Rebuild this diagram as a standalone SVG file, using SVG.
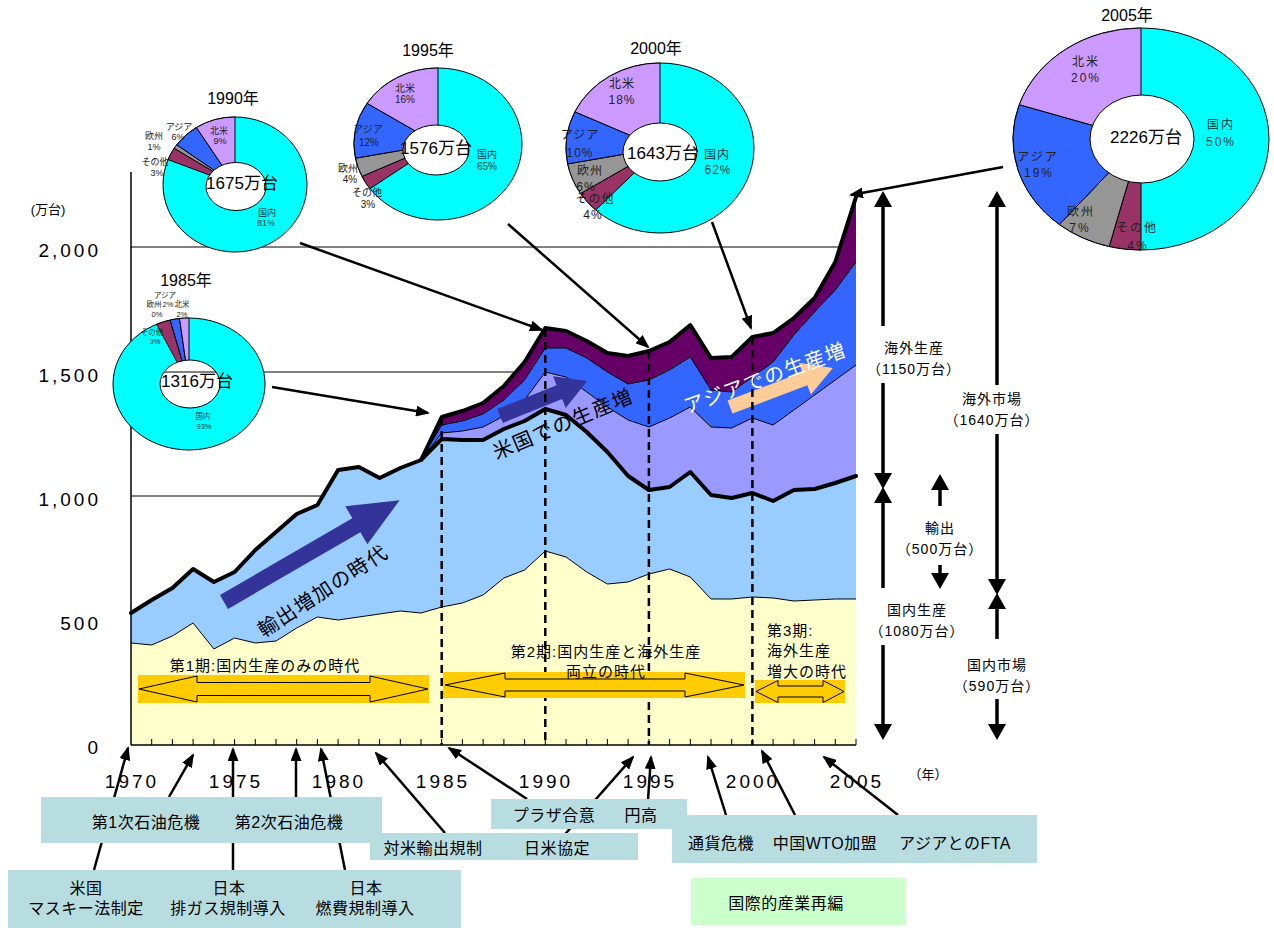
<svg xmlns="http://www.w3.org/2000/svg" width="1274" height="928" viewBox="0 0 1274 928">
<style>
text{font-family:'Liberation Sans','Noto Sans CJK JP',sans-serif;fill:#000}
.ax{font-size:19px;letter-spacing:3px}
.yl{text-anchor:end}
.xl{text-anchor:middle}
.ev{font-size:16px;text-anchor:middle;letter-spacing:0.5px}
.pl{text-anchor:middle;dominant-baseline:central;fill:#222}
.dom{fill:#003333}
.yr{font-size:16px;text-anchor:middle;dominant-baseline:central}
.tot{font-size:17px;text-anchor:middle;dominant-baseline:central}
.rl{font-size:14px;text-anchor:middle;letter-spacing:1px;dominant-baseline:central}
.per{font-size:15px;letter-spacing:1px}
.big{font-size:20px;text-anchor:middle;dominant-baseline:central;letter-spacing:1.5px}
.grid{stroke:#000;stroke-width:1}
.thin{fill:none;stroke:#000;stroke-width:1;stroke-linejoin:round}
.thick{fill:none;stroke:#000;stroke-width:4;stroke-linejoin:round;stroke-linecap:round}
.dash{stroke:#000;stroke-width:2.5;stroke-dasharray:8 5}
.con{stroke:#000;stroke-width:2.5;fill:none;marker-end:url(#ah)}
.rc{stroke:#000;stroke-width:3.5;fill:none;marker-end:url(#ahb)}
.box{fill:#B7DDE1}
.band{fill:#FFCC00}
.dbl{fill:none;stroke:#000;stroke-width:1}
.sl{stroke:#000;stroke-width:1}
</style>
<defs>
<marker id="ah" markerUnits="userSpaceOnUse" markerWidth="14" markerHeight="11" refX="12" refY="5.5" orient="auto"><path d="M0,0 L14,5.5 L0,11 Z" fill="#000"/></marker>
<marker id="ahb" markerUnits="userSpaceOnUse" markerWidth="16" markerHeight="18" refX="11" refY="9" orient="auto"><path d="M0,0 L16,9 L0,18 Z" fill="#000"/></marker>
<mask id="m85"><rect x="100" y="300" width="190" height="170" fill="#fff"/><ellipse cx="190" cy="384" rx="30" ry="24" fill="#000"/></mask>
<mask id="m90"><rect x="150" y="105" width="170" height="160" fill="#fff"/><ellipse cx="236" cy="186.5" rx="30" ry="24" fill="#000"/></mask>
<mask id="m95"><rect x="340" y="55" width="200" height="180" fill="#fff"/><ellipse cx="436" cy="150" rx="33" ry="25" fill="#000"/></mask>
<mask id="m00"><rect x="555" y="50" width="215" height="200" fill="#fff"/><ellipse cx="660" cy="152" rx="37" ry="29" fill="#000"/></mask>
<mask id="m05"><rect x="1000" y="15" width="274" height="250" fill="#fff"/><ellipse cx="1142" cy="139" rx="52" ry="44" fill="#000"/></mask>
</defs>
<rect width="1274" height="928" fill="#fff"/>

<g id="chart">
<g id="gridlines">
<line class="grid" x1="131" y1="247" x2="856" y2="247"/>
<line class="grid" x1="131" y1="372" x2="856" y2="372"/>
<line class="grid" x1="131" y1="496" x2="856" y2="496"/>
<line class="grid" x1="131" y1="621" x2="856" y2="621"/>
</g>
<g id="areas">
<path fill="#660066" d="M421,460 L441.7,417 462.4,411 483.1,403 503.9,386 524.6,362 545.3,328 566,331 586.7,341 607.4,353 628.1,356 648.9,351 669.6,342 690.3,325 711,358 731.7,357 752.4,337 773.1,333 793.9,318 814.6,298 835.3,262 856,197 L856,745 L421,745 Z"/>
<path fill="#3366FF" d="M421,460 L441.7,425 462.4,421 483.1,414 503.9,400 524.6,380 545.3,348 566,348 586.7,358 607.4,372 628.1,384 648.9,380 669.6,370 690.3,357 711,390 731.7,392 752.4,377 773.1,362 793.9,335 814.6,312 835.3,290 856,262 L856,745 L421,745 Z"/>
<path fill="#9999FF" d="M421,460 L441.7,433 462.4,431 483.1,427 503.9,416 524.6,400 545.3,372 566,377 586.7,392 607.4,407 628.1,420 648.9,427 669.6,418 690.3,407 711,427 731.7,428 752.4,418 773.1,425 793.9,410 814.6,395 835.3,380 856,365 L856,745 L421,745 Z"/>
<path fill="#99CCFF" d="M131,613 L151.7,600 172.4,588 193.1,569 213.9,582 234.6,572 255.3,550 276,532 296.7,514 317.4,505 338.1,470 358.9,467 379.6,478 400.3,468 421,460 441.7,439 462.4,440 483.1,440 503.9,429 524.6,421 545.3,409 566,415 586.7,432 607.4,452 628.1,476 648.9,490 669.6,487 690.3,472 711,495 731.7,498 752.4,493 773.1,501 793.9,490 814.6,489 835.3,483 856,476 L856,745 L131,745 Z"/>
<path fill="#FFFFCC" d="M131,643 L151.7,645 172.4,636 193.1,623 213.9,649 234.6,638 255.3,643 276,641 296.7,628 317.4,617 338.1,620 358.9,617 379.6,614 400.3,611 421,613 441.7,607 462.4,603 483.1,595 503.9,578 524.6,570 545.3,551 566,557 586.7,572 607.4,584 628.1,582 648.9,574 669.6,569 690.3,577 711,599 731.7,599 752.4,597 773.1,598 793.9,601 814.6,600 835.3,599 856,599 L856,745 L131,745 Z"/>
</g>
<g id="series-lines">
<polyline class="thin" points="131,643 151.7,645 172.4,636 193.1,623 213.9,649 234.6,638 255.3,643 276,641 296.7,628 317.4,617 338.1,620 358.9,617 379.6,614 400.3,611 421,613 441.7,607 462.4,603 483.1,595 503.9,578 524.6,570 545.3,551 566,557 586.7,572 607.4,584 628.1,582 648.9,574 669.6,569 690.3,577 711,599 731.7,599 752.4,597 773.1,598 793.9,601 814.6,600 835.3,599 856,599"/>
<polyline class="thin" points="421,460 441.7,433 462.4,431 483.1,427 503.9,416 524.6,400 545.3,372 566,377 586.7,392 607.4,407 628.1,420 648.9,427 669.6,418 690.3,407 711,427 731.7,428 752.4,418 773.1,425 793.9,410 814.6,395 835.3,380 856,365"/>
<polyline class="thin" points="421,460 441.7,425 462.4,421 483.1,414 503.9,400 524.6,380 545.3,348 566,348 586.7,358 607.4,372 628.1,384 648.9,380 669.6,370 690.3,357 711,390 731.7,392 752.4,377 773.1,362 793.9,335 814.6,312 835.3,290 856,262"/>
<polyline class="thick" points="131,613 151.7,600 172.4,588 193.1,569 213.9,582 234.6,572 255.3,550 276,532 296.7,514 317.4,505 338.1,470 358.9,467 379.6,478 400.3,468 421,460 441.7,439 462.4,440 483.1,440 503.9,429 524.6,421 545.3,409 566,415 586.7,432 607.4,452 628.1,476 648.9,490 669.6,487 690.3,472 711,495 731.7,498 752.4,493 773.1,501 793.9,490 814.6,489 835.3,483 856,476"/>
<polyline class="thick" points="421,460 441.7,417 462.4,411 483.1,403 503.9,386 524.6,362 545.3,328 566,331 586.7,341 607.4,353 628.1,356 648.9,351 669.6,342 690.3,325 711,358 731.7,357 752.4,337 773.1,333 793.9,318 814.6,298 835.3,262 856,197"/>
</g>
<g id="axes">
<line stroke="#000" stroke-width="1.5" x1="131" y1="172" x2="131" y2="745"/>
<line stroke="#000" stroke-width="1.5" x1="131" y1="745" x2="856" y2="745"/>
<path stroke="#000" stroke-width="1" fill="none" d="M151.7,745V739M172.4,745V739M193.1,745V739M213.9,745V739M234.6,745V739M255.3,745V739M276,745V739M296.7,745V739M317.4,745V739M338.1,745V739M358.9,745V739M379.6,745V739M400.3,745V739M421,745V739M441.7,745V739M462.4,745V739M483.1,745V739M503.9,745V739M524.6,745V739M545.3,745V739M566,745V739M586.7,745V739M607.4,745V739M628.1,745V739M648.9,745V739M669.6,745V739M690.3,745V739M711,745V739M731.7,745V739M752.4,745V739M773.1,745V739M793.9,745V739M814.6,745V739M835.3,745V739M856,745V739"/>
<text x="48" y="214" font-size="13" text-anchor="middle">(万台)</text>
<text class="ax yl" x="101" y="257">2,000</text>
<text class="ax yl" x="101" y="382">1,500</text>
<text class="ax yl" x="101" y="506">1,000</text>
<text class="ax yl" x="101" y="630">500</text>
<text class="ax yl" x="101" y="754">0</text>
<text class="ax xl" x="132" y="788">1970</text>
<text class="ax xl" x="236" y="788">1975</text>
<text class="ax xl" x="339" y="788">1980</text>
<text class="ax xl" x="443" y="788">1985</text>
<text class="ax xl" x="546" y="788">1990</text>
<text class="ax xl" x="650" y="788">1995</text>
<text class="ax xl" x="753" y="788">2000</text>
<text class="ax xl" x="857" y="788">2005</text>
<text x="928" y="779" font-size="13" text-anchor="middle">（年）</text>
</g>
<g id="trend-arrows">
<polygon fill="#333399" points="0,-8 153,-8 153,-22 203,0 153,22 153,8 0,8" transform="translate(224,602) rotate(-30.1)"/>
<polygon fill="#333399" points="0,-7.5 64,-7.5 64,-17 94,0 64,17 64,7.5 0,7.5" transform="translate(500,416) rotate(-21.9)"/>
<polygon fill="#FFCC99" points="0,-7 80,-7 80,-17 110,0 80,17 80,7 0,7" transform="translate(730,407) rotate(-20.7)"/>
</g>
<g id="period-dividers">
<line class="dash" x1="441.7" y1="418" x2="441.7" y2="745"/>
<line class="dash" x1="545.3" y1="329" x2="545.3" y2="745"/>
<line class="dash" x1="648.9" y1="351" x2="648.9" y2="745"/>
<line class="dash" x1="752.4" y1="337" x2="752.4" y2="745"/>
</g>
<g id="period-bands">
<rect class="band" x="138" y="675" width="291" height="28"/>
<polygon class="dbl" points="139,689 197,676 197,682.5 370,682.5 370,676 428,689 370,702 370,695.5 197,695.5 197,702"/>
<rect class="band" x="443" y="672" width="302" height="26"/>
<polygon class="dbl" points="445,685 505,673 505,679 685,679 685,673 744,685 685,697 685,691 505,691 505,697"/>
<rect class="band" x="755" y="680" width="90" height="23"/>
<polygon class="dbl" points="756,691.5 778,680.5 778,686 823,686 823,680.5 844,691.5 823,702.5 823,697 778,697 778,702.5"/>
</g>
<g id="chart-texts">
<text class="big" transform="translate(323,591) rotate(-33)">輸出増加の時代</text>
<text class="big" transform="translate(563,424) rotate(-23)">米国での生産増</text>
<text class="big" style="fill:#fff" transform="translate(765,378) rotate(-20)">アジアでの生産増</text>
<text class="per" x="265" y="671" text-anchor="middle">第1期:国内生産のみの時代</text>
<text class="per" x="606" y="657" text-anchor="middle">第2期:国内生産と海外生産</text>
<text class="per" x="606" y="677" text-anchor="middle">両立の時代</text>
<text class="per" x="767" y="636">第3期:</text>
<text class="per" x="767" y="656">海外生産</text>
<text class="per" x="767" y="677">増大の時代</text>
</g>
</g>

<g id="pie1985">
<g mask="url(#m85)">
<ellipse cx="189" cy="384" rx="76" ry="66" fill="#00FFFF" stroke="#000"/>
<path class="sl" fill="#993366" d="M189,384 L156.6,324.3 A76,66 0 0 1 170.1,320.1 Z"/>
<path class="sl" fill="#3366FF" d="M189,384 L170.1,320.1 A76,66 0 0 1 179.5,318.5 Z"/>
<path class="sl" fill="#CC99FF" d="M189,384 L179.5,318.5 A76,66 0 0 1 189,318 Z"/>
</g>
<ellipse cx="190" cy="384" rx="30" ry="24" fill="none" stroke="#000"/>
<text class="yr" x="186" y="280">1985年</text>
<text class="tot" x="197" y="381">1316万台</text>
<g font-size="7.5">
<text class="pl" x="165" y="295">アジア</text>
<text class="pl" x="154" y="304">欧州</text><text class="pl" x="168" y="304">2%</text><text class="pl" x="182" y="304">北米</text>
<text class="pl" x="157" y="314">0%</text><text class="pl" x="182" y="314">2%</text>
<text class="pl" x="152" y="332">その他</text><text class="pl" x="155" y="341">3%</text>
<text class="pl dom" x="203" y="416">国内</text><text class="pl dom" x="204" y="426">93%</text>
</g>
</g>

<g id="pie1990">
<g mask="url(#m90)">
<ellipse cx="235" cy="184.5" rx="72" ry="67.5" fill="#00FFFF" stroke="#000"/>
<path class="sl" fill="#993366" d="M235,184.5 L168.1,159.7 A72,67.5 0 0 1 174.2,148.3 Z"/>
<path class="sl" fill="#969696" d="M235,184.5 L174.2,148.3 A72,67.5 0 0 1 176.8,144.8 Z"/>
<path class="sl" fill="#3366FF" d="M235,184.5 L176.8,144.8 A72,67.5 0 0 1 196.4,127.5 Z"/>
<path class="sl" fill="#CC99FF" d="M235,184.5 L196.4,127.5 A72,67.5 0 0 1 235,117 Z"/>
</g>
<ellipse cx="236" cy="186.5" rx="30" ry="24" fill="none" stroke="#000"/>
<text class="yr" x="233" y="98">1990年</text>
<text class="tot" x="242" y="183">1675万台</text>
<g font-size="9">
<text class="pl" x="219" y="131">北米</text><text class="pl" x="220" y="141">9%</text>
<text class="pl" x="179" y="127">アジア</text><text class="pl" x="178" y="137">6%</text>
<text class="pl" x="154" y="136">欧州</text><text class="pl" x="154" y="147">1%</text>
<text class="pl" x="155" y="162">その他</text><text class="pl" x="157" y="173">3%</text>
<text class="pl dom" x="267" y="213">国内</text><text class="pl dom" x="266" y="223">81%</text>
</g>
</g>

<g id="pie1995">
<g mask="url(#m95)">
<ellipse cx="438" cy="144" rx="84" ry="76" fill="#00FFFF" stroke="#000"/>
<path class="sl" fill="#993366" d="M438,144 L370,188.7 A84,76 0 0 1 362,176.4 Z"/>
<path class="sl" fill="#969696" d="M438,144 L362,176.4 A84,76 0 0 1 355.5,158.2 Z"/>
<path class="sl" fill="#3366FF" d="M438,144 L355.5,158.2 A84,76 0 0 1 367.1,103.3 Z"/>
<path class="sl" fill="#CC99FF" d="M438,144 L367.1,103.3 A84,76 0 0 1 438,68 Z"/>
</g>
<ellipse cx="436" cy="150" rx="33" ry="25" fill="none" stroke="#000"/>
<text class="yr" x="428" y="50">1995年</text>
<text class="tot" x="436" y="148">1576万台</text>
<g font-size="10">
<text class="pl" x="405" y="88">北米</text><text class="pl" x="405" y="99">16%</text>
<text class="pl" x="368" y="129">アジア</text><text class="pl" x="369" y="142">12%</text>
<text class="pl" x="348" y="168">欧州</text><text class="pl" x="350" y="179">4%</text>
<text class="pl" x="367" y="192">その他</text><text class="pl" x="368" y="204">3%</text>
<text class="pl dom" x="487" y="154">国内</text><text class="pl dom" x="487" y="166">65%</text>
</g>
</g>

<g id="pie2000">
<g mask="url(#m00)">
<ellipse cx="660" cy="148" rx="94" ry="85" fill="#00FFFF" stroke="#000"/>
<path class="sl" fill="#993366" d="M660,148 L595.7,210 A94,85 0 0 1 580.6,193.5 Z"/>
<path class="sl" fill="#969696" d="M660,148 L580.6,193.5 A94,85 0 0 1 567.7,163.9 Z"/>
<path class="sl" fill="#3366FF" d="M660,148 L567.7,163.9 A94,85 0 0 1 574.9,111.8 Z"/>
<path class="sl" fill="#CC99FF" d="M660,148 L574.9,111.8 A94,85 0 0 1 660,63 Z"/>
</g>
<ellipse cx="660" cy="152" rx="37" ry="29" fill="none" stroke="#000"/>
<text class="yr" x="656" y="48">2000年</text>
<text class="tot" x="663" y="153">1643万台</text>
<g font-size="12" letter-spacing="1">
<text class="pl" x="622" y="84">北米</text><text class="pl" x="622" y="100">18%</text>
<text class="pl" x="580" y="135">アジア</text><text class="pl" x="580" y="153">10%</text>
<text class="pl" x="590" y="171">欧州</text><text class="pl" x="586" y="187">6%</text>
<text class="pl" x="595" y="199">その他</text><text class="pl" x="593" y="215">4%</text>
<text class="pl dom" x="717" y="155">国内</text><text class="pl dom" x="718" y="170">62%</text>
</g>
</g>

<g id="pie2005">
<g mask="url(#m05)">
<ellipse cx="1141" cy="139" rx="128" ry="111" fill="#00FFFF" stroke="#000"/>
<path class="sl" fill="#993366" d="M1141,139 L1141,250 A128,111 0 0 1 1109.2,246.5 Z"/>
<path class="sl" fill="#969696" d="M1141,139 L1109.2,246.5 A128,111 0 0 1 1059.4,224.5 Z"/>
<path class="sl" fill="#3366FF" d="M1141,139 L1059.4,224.5 A128,111 0 0 1 1019.3,104.7 Z"/>
<path class="sl" fill="#CC99FF" d="M1141,139 L1019.3,104.7 A128,111 0 0 1 1141,28 Z"/>
</g>
<ellipse cx="1142" cy="139" rx="52" ry="44" fill="none" stroke="#000"/>
<text class="yr" x="1127" y="15">2005年</text>
<text class="tot" x="1146" y="137">2226万台</text>
<g font-size="12" letter-spacing="2">
<text class="pl" x="1086" y="62">北米</text><text class="pl" x="1086" y="78">20%</text>
<text class="pl" x="1038" y="157">アジア</text><text class="pl" x="1039" y="173">19%</text>
<text class="pl" x="1081" y="212">欧州</text><text class="pl" x="1080" y="228">7%</text>
<text class="pl" x="1137" y="228">その他</text><text class="pl" x="1138" y="246">4%</text>
<text class="pl dom" x="1221" y="125">国内</text><text class="pl dom" x="1221" y="142">50%</text>
</g>
</g>

<g id="connectors">
<line class="con" x1="272" y1="387" x2="428" y2="413"/>
<line class="con" x1="300" y1="243" x2="542" y2="330"/>
<line class="con" x1="508" y1="224" x2="648" y2="347"/>
<line class="con" x1="712" y1="222" x2="751" y2="328"/>
<line class="con" x1="1003" y1="167" x2="851" y2="195"/>
<line class="con" x1="94" y1="870" x2="128" y2="748"/>
<line class="con" x1="169" y1="797" x2="193" y2="755"/>
<line class="con" x1="233" y1="870" x2="233" y2="749"/>
<line class="con" x1="296" y1="797" x2="296" y2="749"/>
<line class="con" x1="345" y1="870" x2="321" y2="749"/>
<line class="con" x1="445" y1="833" x2="376" y2="753"/>
<line class="con" x1="527" y1="799" x2="449" y2="748"/>
<line class="con" x1="560" y1="840" x2="633" y2="757"/>
<line class="con" x1="648" y1="800" x2="651" y2="757"/>
<line class="con" x1="726" y1="815" x2="708" y2="757"/>
<line class="con" x1="795" y1="815" x2="762" y2="751"/>
<line class="con" x1="898" y1="815" x2="824" y2="757"/>
<line class="rc" x1="883" y1="326" x2="883" y2="196"/>
<line class="rc" x1="883" y1="383" x2="883" y2="484"/>
<line class="rc" x1="883" y1="588" x2="883" y2="492"/>
<line class="rc" x1="883" y1="645" x2="883" y2="735"/>
<line class="rc" x1="997" y1="385" x2="997" y2="196"/>
<line class="rc" x1="997" y1="434" x2="997" y2="590"/>
<line class="rc" x1="997" y1="639" x2="997" y2="598"/>
<line class="rc" x1="997" y1="699" x2="997" y2="735"/>
<line class="rc" x1="940" y1="506" x2="940" y2="479"/>
<line class="rc" x1="940" y1="565" x2="940" y2="584"/>
</g>

<g id="share-labels">
<text class="rl" x="914" y="348">海外生産</text>
<text class="rl" x="914" y="369">（1150万台）</text>
<text class="rl" x="992" y="399">海外市場</text>
<text class="rl" x="992" y="420">（1640万台）</text>
<text class="rl" x="940" y="528">輸出</text>
<text class="rl" x="940" y="549">（500万台）</text>
<text class="rl" x="917" y="610">国内生産</text>
<text class="rl" x="917" y="631">（1080万台）</text>
<text class="rl" x="997" y="665">国内市場</text>
<text class="rl" x="997" y="686">（590万台）</text>
</g>

<g id="ev-oil">
<rect class="box" x="41" y="797" width="341" height="46"/>
<text class="ev" x="146" y="828">第1次石油危機</text>
<text class="ev" x="289" y="828">第2次石油危機</text>
</g>
<g id="ev-regulation">
<rect class="box" x="8" y="870" width="453" height="58"/>
<text class="ev" x="86" y="894">米国</text>
<text class="ev" x="86" y="914">マスキー法制定</text>
<text class="ev" x="229" y="894">日本</text>
<text class="ev" x="228" y="914">排ガス規制導入</text>
<text class="ev" x="366" y="894">日本</text>
<text class="ev" x="365" y="914">燃費規制導入</text>
</g>
<g id="ev-trade">
<rect class="box" x="370" y="833" width="268" height="27"/>
<text class="ev" x="433" y="854">対米輸出規制</text>
<text class="ev" x="557" y="854">日米協定</text>
</g>
<g id="ev-plaza">
<rect class="box" x="491" y="799" width="196" height="30"/>
<text class="ev" x="554" y="821">プラザ合意</text>
<text class="ev" x="641" y="821">円高</text>
</g>
<g id="ev-asia">
<rect class="box" x="672" y="815" width="365" height="48"/>
<text class="ev" x="721" y="849">通貨危機</text>
<text class="ev" x="825" y="849">中国WTO加盟</text>
<text class="ev" x="955" y="849">アジアとのFTA</text>
</g>
<g id="ev-reorg">
<rect x="691" y="878" width="215" height="47" fill="#CCFFCC"/>
<text class="ev" x="786" y="909">国際的産業再編</text>
</g>
</svg>
